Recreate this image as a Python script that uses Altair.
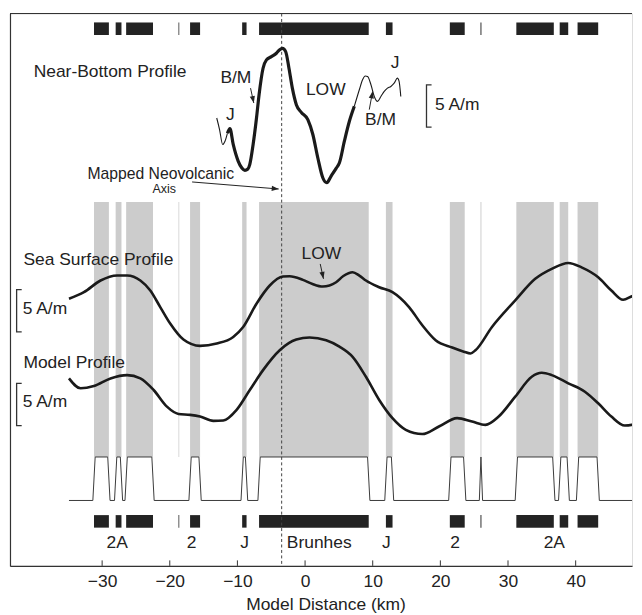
import math
import altair as alt
import pandas as pd

# ---------------- data ----------------
# normal-polarity blocks of the magnetic model (km)
block_start = [-31.2, -28.0, -26.45, -18.71, -17.0, -9.3, -6.8, 11.95, 21.4, 25.93, 31.23, 37.64, 40.28]
block_end = [-29.0, -27.14, -22.48, -18.6, -15.52, -8.65, 9.41, 12.93, 23.6, 26.07, 36.77, 38.9, 43.33]
block_in_wave = [1, 1, 1, 0, 1, 1, 1, 1, 1, 1, 1, 1, 1]

chron_names = ["2A", "2", "J", "Brunhes", "J", "2", "2A"]
chron_km = [-27.78, -16.76, -8.95, 2.10, 12.0, 22.17, 36.84]

# near-bottom profile (km, A/m)
nb_km = [-13.06, -12.65, -12.18, -11.84, -11.48, -11.11, -10.62, -9.89, -9.34, -8.90, -8.46, -8.17,
         -7.68, -7.18, -6.80, -6.21, -5.71, -4.97, -4.24, -3.75, -3.35, -2.87, -2.38, -1.88, -1.29,
         -0.56, 0.41, 1.15, 1.88, 2.62, 3.21, 3.85, 4.59, 5.08, 5.81, 6.55, 7.28, 8.02, 8.50, 8.90,
         9.24, 9.74, 10.23, 10.71, 11.21, 11.70, 12.18, 12.68, 13.17, 13.65, 13.90, 14.15]
nb_am = [0.44, -0.89, -2.69, -2.30, -1.36, -0.81, -2.69, -4.65, -5.48, -5.75, -5.59, -5.04,
         -2.69, 0.44, 3.19, 6.32, 7.31, 7.70, 8.09, 8.52, 8.68, 8.29, 6.32, 3.97, 2.02,
         1.11, 0.25, -1.51, -4.26, -6.62, -7.21, -6.42, -5.51, -4.85, -2.30, 0.05, 1.82, 3.78, 4.96, 5.41,
         5.35, 4.37, 2.99, 2.41, 2.99, 3.58, 3.97, 4.17, 4.56, 5.15, 4.76, 2.99]
nb_thick_from, nb_thick_to = 4, 36

sea_km = [-34.90, -32.69, -30.23, -27.78, -26.31, -24.35, -22.88, -21.41, -19.94, -17.98, -15.52,
          -13.06, -10.62, -9.15, -7.18, -5.22, -3.27, -2.28, -0.32, 1.10, 2.62, 4.59, 5.66, 7.03,
          8.02, 9.00, 10.96, 12.92, 15.37, 17.33, 19.30, 21.75, 23.47, 24.45, 25.19, 27.63, 31.07,
          34.02, 36.46, 38.91, 40.87, 43.33, 45.28, 47.01, 48.73, 49.51]
sea_am = [1.58, 2.35, 3.73, 4.32, 4.32, 3.73, 2.55, 0.59, -1.36, -3.25, -4.00,
          -3.72, -2.94, -1.76, 0.99, 3.14, 4.20, 4.24, 3.81, 3.32, 3.02, 3.53, 4.26, 4.71,
          4.32, 3.73, 2.94, 2.35, 0.59, -1.56, -3.33, -4.19, -4.68, -4.89, -4.51, -1.76, 1.38,
          3.93, 5.11, 5.81, 5.29, 4.12, 2.55, 1.46, 1.96, 1.76]

model_km = [-34.90, -33.18, -31.22, -28.76, -26.31, -24.35, -22.39, -20.42, -18.71, -16.99, -15.52,
            -13.56, -12.09, -10.12, -8.17, -6.21, -3.75, -1.29, 0.66, 3.12, 5.08, 7.03, 9.00,
            10.96, 12.92, 14.89, 17.33, 19.79, 22.48, 24.69, 26.66, 28.62, 31.07, 33.51, 34.99,
            36.46, 38.91, 41.37, 43.33, 45.28, 47.26, 49.51]
model_am = [2.16, 0.99, 1.26, 2.16, 2.55, 2.16, 0.79, -1.18, -2.04, -2.15, -2.35,
            -2.86, -2.82, -1.56, 0.79, 3.14, 5.49, 6.75, 6.99, 6.67, 5.91, 4.71, 2.35,
            -0.39, -2.54, -3.92, -4.42, -3.53, -2.54, -2.94, -3.33, -2.35, 0.00, 2.35, 2.82,
            2.55, 1.58, 0.59, -0.78, -2.35, -3.41, -3.13]

tick_km = [-30, -20, -10, 0, 10, 20, 30, 40]
neovolcanic_km = -3.46

# ---------------- layout (stacked A/m units) ----------------
W, H = 625, 555
X_DOM = [-43.62, 48.33]
Y_DOM = [0, 65.29]
offset = {"near": 52.5, "sea": 30.0, "model": 20.0}
top_bar = (62.75, 64.24)
bottom_bar = (4.52, 6.0)
shade = (12.87, 43.02)
wave = (7.73, 12.87)
wave_start = -34.9
ramp = 0.17
FONT = "Liberation Sans"
INK = "#222222"
FS = 17.5

xs = alt.Scale(domain=X_DOM, nice=False, zero=False)
ys = alt.Scale(domain=Y_DOM, nice=False, zero=False)
xaxis = alt.Axis(values=tick_km, title="Model Distance (km)", ticks=False, tickSize=0,
                 labelFontSize=FS, labelFont=FONT, labelColor=INK, labelPadding=6.5,
                 domainColor="#333333", domainWidth=1.2, titleFont=FONT, titleFontSize=FS,
                 titleFontWeight="normal", titleColor=INK, titlePadding=6.3, grid=False,
                 labelFlush=False, titleX=317, titleAnchor="middle")
yaxis = alt.Axis(ticks=False, labels=False, title=None, grid=False,
                 domainColor="#333333", domainWidth=1.2)


def X(f):
    return alt.X(f, type="quantitative", scale=xs, axis=xaxis)


def Y(f):
    return alt.Y(f, type="quantitative", scale=ys, axis=yaxis)


blocks = pd.DataFrame({"s": block_start, "e": block_end})
blocks["shade_lo"], blocks["shade_hi"] = shade
blocks["tb_lo"], blocks["tb_hi"] = top_bar
blocks["bb_lo"], blocks["bb_hi"] = bottom_bar

shade_layer = alt.Chart(blocks).mark_rect(color="#cccccc").encode(
    x=X("s"), x2="e", y=Y("shade_lo"), y2="shade_hi")
top_bars = alt.Chart(blocks).mark_rect(color="#232323").encode(
    x=X("s"), x2="e", y=Y("tb_lo"), y2="tb_hi")
bottom_bars = alt.Chart(blocks).mark_rect(color="#232323").encode(
    x=X("s"), x2="e", y=Y("bb_lo"), y2="bb_hi")

# square wave of the magnetization model
lo, hi = wave
pts = [(wave_start, lo)]
for s, e, m in zip(block_start, block_end, block_in_wave):
    if not m:
        continue
    if e - s < 2 * ramp:
        pts += [(s - ramp, lo), ((s + e) / 2, hi), (e + ramp, lo)]
    else:
        pts += [(s - ramp, lo), (s + ramp, hi), (e - ramp, hi), (e + ramp, lo)]
pts.append((X_DOM[1], lo))
wave_df = pd.DataFrame({"km": [p[0] for p in pts], "y": [p[1] for p in pts],
                        "i": list(range(len(pts)))})
wave_layer = alt.Chart(wave_df).mark_line(color="#3a3a3a", strokeWidth=1).encode(
    x=X("km"), y=Y("y"), order="i:Q")

# profiles
nb = pd.DataFrame({"km": nb_km, "am": nb_am})
nb["y"] = nb["am"] + offset["near"]
nb_left = nb.iloc[: nb_thick_from + 1]
nb_mid = nb.iloc[nb_thick_from: nb_thick_to + 1]
nb_right = nb.iloc[nb_thick_to:]
line_kw = dict(interpolate="monotone", color="#1a1a1a", clip=True)
nb_thin_l = alt.Chart(nb_left).mark_line(strokeWidth=1.1, **line_kw).encode(x=X("km"), y=Y("y"))
nb_thin_r = alt.Chart(nb_right).mark_line(strokeWidth=1.1, **line_kw).encode(x=X("km"), y=Y("y"))
nb_thick = alt.Chart(nb_mid).mark_line(strokeWidth=3.2, **line_kw).encode(x=X("km"), y=Y("y"))

sea = pd.DataFrame({"km": sea_km, "am": sea_am})
sea["y"] = sea["am"] + offset["sea"]
sea_layer = alt.Chart(sea).mark_line(strokeWidth=2.6, **line_kw).encode(x=X("km"), y=Y("y"))

model = pd.DataFrame({"km": model_km, "am": model_am})
model["y"] = model["am"] + offset["model"]
model_layer = alt.Chart(model).mark_line(strokeWidth=2.6, **line_kw).encode(x=X("km"), y=Y("y"))

# neovolcanic axis dashed line
axis_line = alt.Chart(pd.DataFrame({"km": [neovolcanic_km]})).mark_rule(
    color="#444444", strokeWidth=1, strokeDash=[3, 2.5]).encode(
    x=X("km"), y=alt.value(0), y2=alt.value(H))

# frame top and inward ticks
top_rule = alt.Chart(pd.DataFrame({"k": [0]})).mark_rule(color="#333333", strokeWidth=1.2).encode(
    x=alt.value(0), x2=alt.value(W), y=alt.value(0))
ticks = alt.Chart(pd.DataFrame({"km": tick_km})).mark_rule(color="#333333", strokeWidth=1).encode(
    x=X("km"), y=alt.value(H), y2=alt.value(H - 5.5))

# scale bars (5 A/m brackets)
bar_x = [17.95, -42.64, -42.64]
bar_lo = [-0.65, -2.35, -3.42]
bar_prof = ["near", "sea", "model"]
bw = 0.75
brows = []
for j, (bx, bl, bp) in enumerate(zip(bar_x, bar_lo, bar_prof)):
    b0 = bl + offset[bp]
    b1 = b0 + 5.0
    for k, (xx, yy) in enumerate([(bx + bw, b1), (bx, b1), (bx, b0), (bx + bw, b0)]):
        brows.append({"km": xx, "y": yy, "id": j, "k": k})
brackets = alt.Chart(pd.DataFrame(brows)).mark_line(color="#333333", strokeWidth=1.3).encode(
    x=X("km"), y=Y("y"), detail="id:N", order="k:Q")

# arrows
arr_x1 = [-16.70, -8.06, 9.49, 2.24]
arr_y1 = [45.38, 56.47, 53.93, 35.69]
arr_x2 = [-3.90, -7.58, 9.98, 2.72]
arr_y2 = [44.55, 54.71, 56.08, 33.93]
px_km = W / (X_DOM[1] - X_DOM[0])
px_y = H / (Y_DOM[1] - Y_DOM[0])
arows = []
for a, (x1, y1, x2, y2) in enumerate(zip(arr_x1, arr_y1, arr_x2, arr_y2)):
    ang = math.degrees(math.atan2(-(y2 - y1) * px_y, (x2 - x1) * px_km)) % 360
    arows.append({"x1": x1, "y1": y1, "x2": x2, "y2": y2, "ang": ang})
adf = pd.DataFrame(arows)
arrow_shafts = alt.Chart(adf).mark_rule(color=INK, strokeWidth=1).encode(
    x=X("x1"), y=Y("y1"), x2="x2", y2="y2")
arrow_heads = alt.Chart(adf).mark_point(
    shape="M0,0L-2,-0.75L-2,0.75Z", filled=True, size=49, color=INK, opacity=1, strokeWidth=0).encode(
    x=X("x2"), y=Y("y2"), angle=alt.Angle("ang:Q", scale=None))

# text labels
left_txt = pd.DataFrame({
    "t": ["Near-Bottom Profile", "Sea Surface Profile", "Model Profile", "5 A/m", "5 A/m", "5 A/m"],
    "km": [-40.12, -41.64, -41.64, 19.2, -41.75, -41.75],
    "y": [58.32, 36.12, 23.93, 54.44, 30.4, 19.32]})
center_txt = pd.DataFrame({
    "t": ["B/M", "J", "LOW", "B/M", "J", "LOW"] + chron_names,
    "km": [-10.23, -11.06, 3.06, 11.15, 13.29, 2.41] + chron_km,
    "y": [57.65, 53.26, 56.28, 52.75, 59.41, 36.91] + [2.75] * len(chron_names)})
txt_kw = dict(font=FONT, color=INK, baseline="middle")
t_left = alt.Chart(left_txt).mark_text(align="left", fontSize=FS, **txt_kw).encode(
    x=X("km"), y=Y("y"), text="t:N")
t_center = alt.Chart(center_txt).mark_text(align="center", fontSize=FS, **txt_kw).encode(
    x=X("km"), y=Y("y"), text="t:N")
t_mapped = alt.Chart(pd.DataFrame({"t": ["Mapped Neovolcanic"], "km": [-21.33], "y": [46.32]})).mark_text(
    align="center", fontSize=15.8, **txt_kw).encode(x=X("km"), y=Y("y"), text="t:N")
t_axis = alt.Chart(pd.DataFrame({"t": ["Axis"], "km": [-20.82], "y": [44.55]})).mark_text(
    align="center", fontSize=12.5, **txt_kw).encode(x=X("km"), y=Y("y"), text="t:N")

chart = alt.layer(
    shade_layer, wave_layer, top_bars, bottom_bars, axis_line,
    nb_thin_l, nb_thin_r, nb_thick, sea_layer, model_layer,
    brackets, arrow_shafts, arrow_heads,
    t_left, t_center, t_mapped, t_axis, top_rule, ticks,
).properties(
    width=W, height=H,
    padding={"left": 1, "top": 3.1, "right": 0, "bottom": 0},
).configure_view(strokeWidth=0, strokeOpacity=0).configure(background="white")

chart.save("out.html", embed_options={"renderer": "svg", "actions": False})
